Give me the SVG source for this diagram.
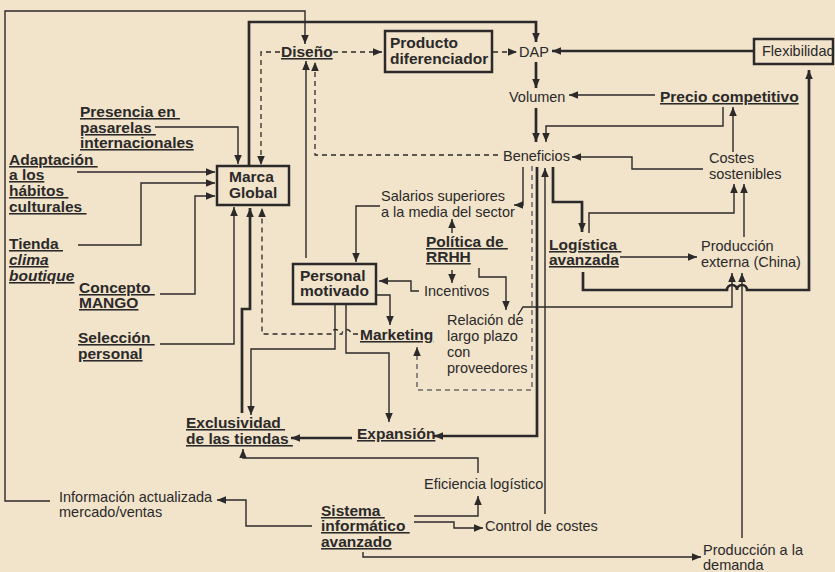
<svg xmlns="http://www.w3.org/2000/svg" width="835" height="572" viewBox="0 0 835 572">
<style>
text{font-family:"Liberation Sans",Arial,sans-serif;fill:#2b2929}
.t{font-size:14.5px}
.b{font-size:15.5px;font-weight:bold}
.u{text-decoration:underline;text-decoration-thickness:2px}
.i{font-style:italic}
.box{fill:none;stroke:#2b2929;stroke-width:2.5}
.ln{fill:none;stroke:#2b2929;stroke-width:1.4}
.tk{fill:none;stroke:#2b2929;stroke-width:2.7}
.ds{fill:none;stroke:#2b2929;stroke-width:1.3;stroke-dasharray:5 4}
.dg{fill:none;stroke:#6a6868;stroke-width:1.5;stroke-dasharray:5 4}
</style>
<defs>
<marker id="ah" viewBox="0 0 10 10" refX="10" refY="5" markerWidth="9" markerHeight="9" markerUnits="userSpaceOnUse" orient="auto">
<path d="M0,0.8 L10,5 L0,9.2 z" fill="#2b2929"/>
</marker>
</defs>
<rect x="0" y="0" width="835" height="572" fill="#f1e4cb"/>

<g id="connectors">
<g marker-end="url(#ah)">
<path class="ln" d="M50,501 H5 V11 H305 V44"/>
<path class="ln" d="M155,127 H238 V164"/>
<path class="ln" d="M77,172 H215"/>
<path class="ln" d="M78,245 H141 V183 H215"/>
<path class="ln" d="M160,294 H195 V196 H215"/>
<path class="ln" d="M160,344 H234 V207"/>
<path class="ln" d="M306,258 V61"/>
<path class="ln" d="M380,206 H356 V262"/>
<path class="ln" d="M452,233 V219"/>
<path class="ln" d="M452,270 V283"/>
<path class="ln" d="M479,268 V277 H506 V310"/>
<path class="ln" d="M419,291 H411 V281 H379"/>
<path class="ln" d="M377,295 H390 V325"/>
<path class="ln" d="M335,305 V349 H251 V415"/>
<path class="ln" d="M346,305 V353 H389 V422"/>
<path class="ln" d="M523,167 V205 H514"/>
<path class="ln" d="M545,514 V168"/>
<path class="ln" d="M655,95 H569"/>
<path class="ln" d="M723,107 V126 H546 V142"/>
<path class="ln" d="M733,152 V107"/>
<path class="ln" d="M703,169 H632 V157 H572"/>
<path class="ln" d="M589,233 V213 H734 V184"/>
<path class="ln" d="M744,237 V184"/>
<path class="ln" d="M620,257 H697"/>
<path class="ln" d="M518,315 L523,307 H732 V273"/>
<path class="ln" d="M742,538 V273"/>
<path class="ln" d="M478,473 V458 H243 V449"/>
<path class="ln" d="M312,526 H246 V500 H217"/>
<path class="ln" d="M414,516 H478 V496"/>
<path class="ln" d="M414,522 H454 V528 H483"/>
<path class="ln" d="M363,552 V557 H701"/>

<path class="tk" d="M249,166 V22 H536 V42"/>
<path class="tk" d="M536,62 V88"/>
<path class="tk" d="M536,108 V142"/>
<path class="tk" d="M754,51 H552"/>
<path class="tk" d="M553,167 V202 H582 V232"/>
<path class="tk" d="M583,272 V290 H727 a5,5 0 0 1 10,0 a5,5 0 0 1 10,0 H809 V70"/>
<path class="tk" d="M537,167 V436 H434"/>
<path class="tk" d="M352,438 H291"/>
<path class="tk" d="M242,413 V309 H250 V208"/>

<path class="ds" d="M333,52 H382"/>
<path class="ds" d="M493,52 H517"/>
<path class="ds" d="M498,155 H315 V62"/>
<path class="ds" d="M280,52 H261 V165"/>
<path class="ds" d="M358,334 H351 a4.5,4.5 0 0 0 -9,0 H340 a4.5,4.5 0 0 0 -9,0 H262 V208"/>
<path class="dg" d="M532,166 V390 H417 V347"/>
</g>
</g>

<g id="marca-global">
<rect class="box" x="217" y="166" width="72" height="39"/>
<text class="b" x="229" y="182">Marca<tspan x="229" dy="16">Global</tspan></text>
</g>
<g id="producto-diferenciador">
<rect class="box" x="385" y="31" width="107" height="41"/>
<text class="b" x="390" y="48">Producto<tspan x="390" dy="16">diferenciador</tspan></text>
</g>
<g id="personal-motivado">
<rect class="box" x="293" y="264" width="83" height="40"/>
<text class="b" x="300" y="281">Personal<tspan x="300" dy="15">motivado</tspan></text>
</g>
<g id="flexibilidad">
<rect class="box" x="754" y="39" width="79" height="25"/>
<text class="t" x="762" y="56">Flexibilidad</text>
</g>
<g id="diseno"><text class="b u" x="281" y="57">Diseño</text></g>
<g id="dap"><text class="t" x="519" y="57">DAP</text></g>
<g id="volumen"><text class="t" x="509" y="102">Volumen</text></g>
<g id="precio"><text class="b u" x="660" y="102">Precio competitivo</text></g>
<g id="beneficios"><text class="t" x="503" y="161">Beneficios</text></g>
<g id="costes">
<text class="t" x="709" y="163">Costes<tspan x="709" dy="16">sostenibles</tspan></text>
</g>
<g id="presencia">
<text class="b u" x="80" y="117">Presencia en&#160;<tspan x="80" dy="16">pasarelas&#160;</tspan><tspan x="80" dy="15">internacionales</tspan></text>
</g>
<g id="adaptacion">
<text class="b u" x="9" y="165">Adaptación&#160;<tspan x="9" dy="15">a los</tspan><tspan x="9" dy="16">hábitos&#160;</tspan><tspan x="9" dy="16">culturales&#160;</tspan></text>
</g>
<g id="tienda">
<text class="b u" x="9" y="249">Tienda&#160;<tspan class="i" x="9" dy="16">clima</tspan><tspan class="i" x="9" dy="16">boutique</tspan></text>
</g>
<g id="concepto">
<text class="b u" x="79" y="293">Concepto&#160;<tspan x="79" dy="15">MANGO</tspan></text>
</g>
<g id="seleccion">
<text class="b u" x="78" y="343">Selección&#160;<tspan x="78" dy="16">personal</tspan></text>
</g>
<g id="salarios">
<text class="t" x="381" y="201">Salarios superiores<tspan x="381" dy="16">a la media del sector</tspan></text>
</g>
<g id="politica">
<text class="b u" x="426" y="247">Política de&#160;<tspan x="426" dy="15">RRHH</tspan></text>
</g>
<g id="incentivos"><text class="t" x="424" y="296">Incentivos</text></g>
<g id="logistica">
<text class="b u" x="549" y="250">Logística&#160;<tspan x="549" dy="15">avanzada</tspan></text>
</g>
<g id="produccion-externa">
<text class="t" x="701" y="251">Producción<tspan x="701" dy="16">externa (China)</tspan></text>
</g>
<g id="marketing"><text class="b u" x="360" y="340">Marketing</text></g>
<g id="relacion">
<text class="t" x="447" y="325">Relación de<tspan x="447" dy="16">largo plazo</tspan><tspan x="447" dy="16">con</tspan><tspan x="447" dy="16">proveedores</tspan></text>
</g>
<g id="exclusividad">
<text class="b u" x="186" y="428">Exclusividad&#160;<tspan x="186" dy="16">de las tiendas&#160;</tspan></text>
</g>
<g id="expansion"><text class="b u" x="357" y="439">Expansión</text></g>
<g id="eficiencia"><text class="t" x="424" y="489">Eficiencia logístico</text></g>
<g id="sistema">
<text class="b u" x="321" y="516">Sistema&#160;<tspan x="321" dy="15">informático&#160;</tspan><tspan x="321" dy="16">avanzado</tspan></text>
</g>
<g id="control"><text class="t" x="485" y="531">Control de costes</text></g>
<g id="informacion">
<text class="t" x="59" y="502">Información actualizada<tspan x="59" dy="15">mercado/ventas</tspan></text>
</g>
<g id="produccion-demanda">
<text class="t" x="703" y="555">Producción a la<tspan x="703" dy="15">demanda</tspan></text>
</g>
</svg>
